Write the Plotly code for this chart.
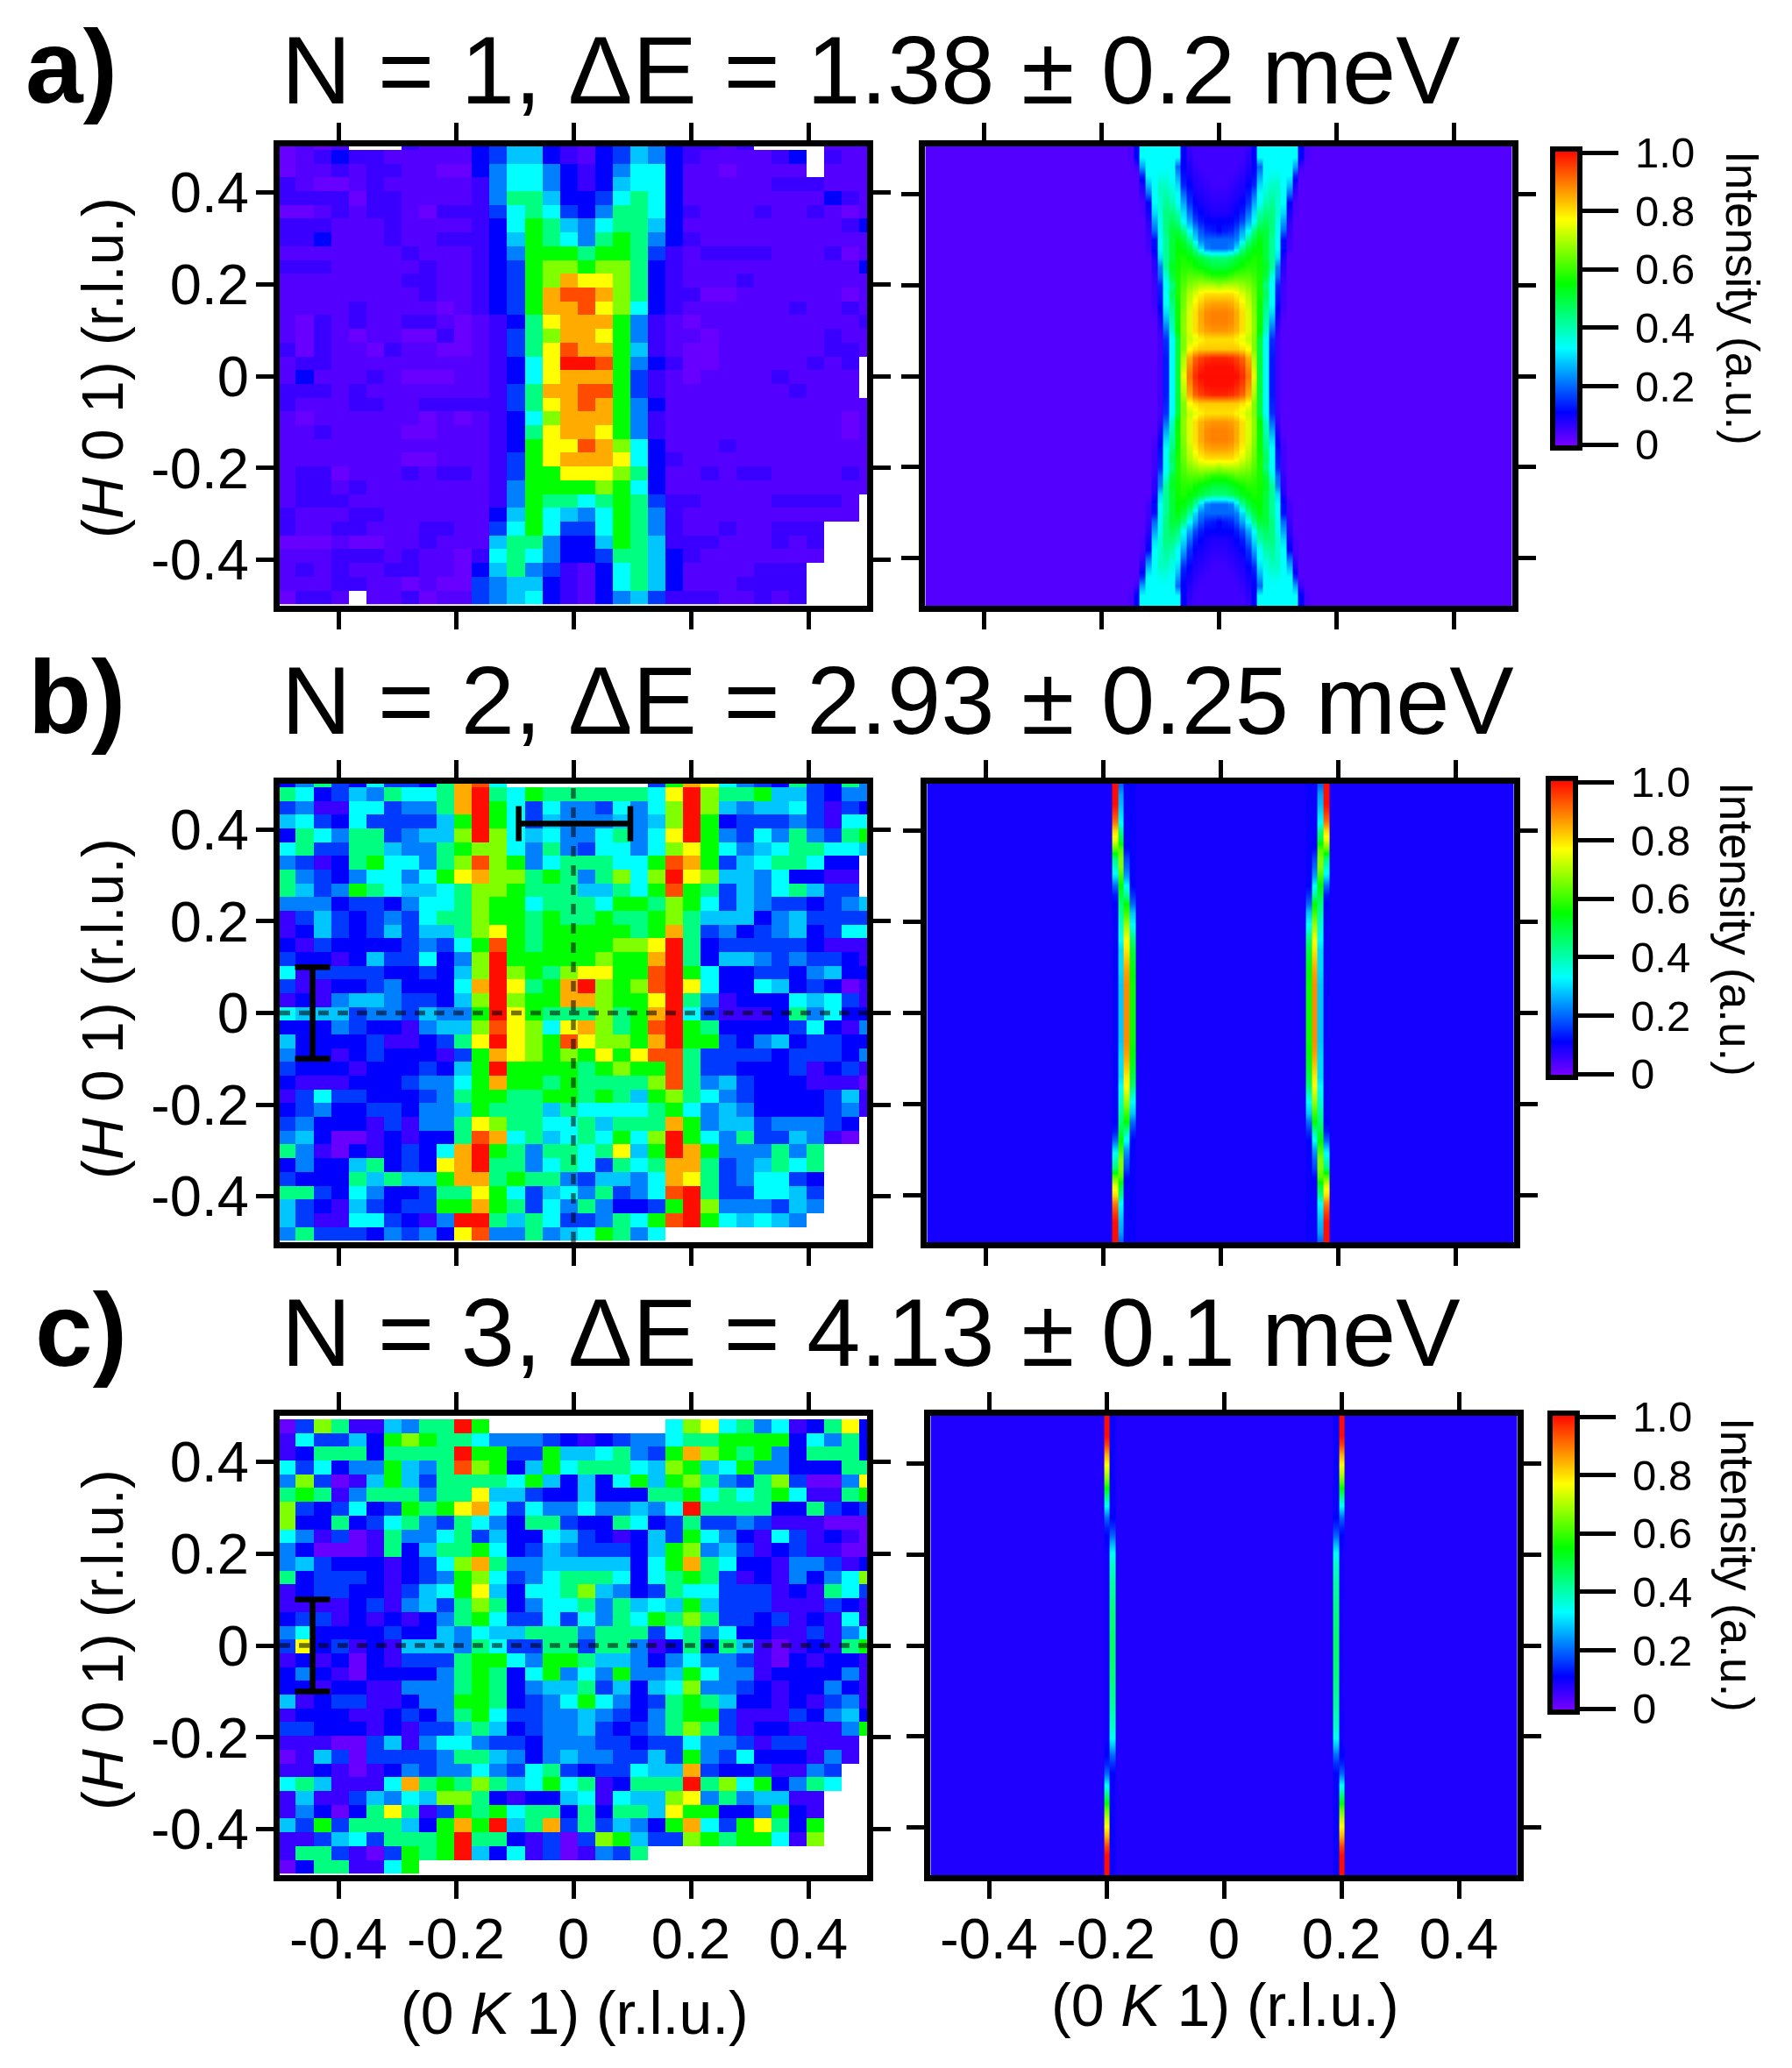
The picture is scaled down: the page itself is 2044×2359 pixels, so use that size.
import plotly.graph_objects as go

W, H = 2044, 2359
FONT = "Liberation Sans"

# Intensity level represented by each character in the measured-map rows ('.' = no data)
LEVELS = {"0": 0.012, "a": 0.03, "1": 0.055, "2": 0.11, "3": 0.16, "4": 0.22, "5": 0.28, "6": 0.33,
          "7": 0.44, "8": 0.55, "9": 0.66, "A": 0.77, "B": 0.85, "D": 0.94, "C": 1.0}

TICKS = [-0.4, -0.2, 0, 0.2, 0.4]
TICK_TEXT = ["-0.4", "-0.2", "0", "0.2", "0.4"]
CBAR_TICKS = [0, 0.2, 0.4, 0.6, 0.8, 1.0]
CBAR_TEXT = ["0", "0.2", "0.4", "0.6", "0.8", "1.0"]
TITLES = ["N = 1, ΔE = 1.38 ± 0.2 meV", "N = 2, ΔE = 2.93 ± 0.25 meV", "N = 3, ΔE = 4.13 ± 0.1 meV"]
PANEL_LETTERS = ["a)", "b)", "c)"]

# Measured-map grid (centres, r.l.u.)
MAP_K = [-0.4875 + 0.03 * i for i in range(34)]
MAP_H = [-0.4825 + 0.03 * j for j in range(34)]

# Panel a, measured, rows top to bottom
MAP_A = [
"0a0a...1aaa 235521a23542 11a1....aaa",
"0a1211aaaaa 235521a23542 1aaaa12.1aa",
"0aa1a11aa00 246642124662 aa0aaaa.aaa",
"1a00a1aaaaa 146642125662 aaaaa111aaa",
"111101 1aaaa 147752236762 aaaaaaaa21a",
"00a1a11a011 136763247762 1aaa1aa1a0a",
"111aaa1aaaa 126875467752 aaaaaaaaa12",
"112aaa1aa11 125876478742 1aaaaaaaaaa",
"aaaaaaa1aaa 124888788731 a1111aaa10a",
"111aaaaa1aa 123899899721 aaaaaaaaaa2",
"aaaaaaa11aa 12389BAA9721 aaa1aaaaaaa",
"aaaaaaaa1aa 1238BDDB9721 100aaaaaa0a",
"aaaa1aaaa0a 1238BBDA9621 aaaaaa1aa1a",
"a01a1aa11a0 a127ABBB841a 0aaaaaaaaa1",
"a01a0aa0010 a1379BBA841a a0aaaaaa1aa",
"101aa01aa00 a137ADBB851a 00aaaaaa11a",
"a11aaaaaaaa a126ACCD8421 00aaaaa1a1.",
"a2aaa1a000a a126ABBB831a 0aaaa1aaaa.",
"111a1aaaaaa a137BBDD831a aaaaaa1aaa.",
"1aaa11aa111 1137ABDB842a aaaaaaaaaaa",
"a0aaaaaa0a0 a1269BBB841a aaaaaaaaa0a",
"aa1aaaa00aa a127ABBA841a aaaaaaaaa0a",
"aaaaaaaaaaa a128AADB962a aa1aaaaaaaa",
"aaaaaaa00aa a138ABBBA621 aaaaaaaaaaa",
"a110aaa1a11 a1388AAA972a a1a11aaaa1a",
"a11a1aaaaaa a14888898 62a aaaaaaaaaaa",
"a111aaaaaaa a14877678731 1aaaa1111a.",
"1aaa11aaaaa a25865468741 aaaaaaaaaa.",
"1aa11aaa11a a36863368741 aa1aa111...",
"000a00aa1aa a57742258751 11aaa1a1...",
"aaa111a1aa0 167642237752 1aaaaaaa...",
"a1a1aa11aa0 257431a26752 aaaa111....",
"aaa11aa0a00 345521a26752 aaa1111....",
"011a.aa10aa 345621a24531 11aa1a1....",
]

# Panel b, measured, rows top to bottom
MAP_B = [
"2473263327 BD6........ 38BA643273 2 7 4",
"7623547667 BC76877777 76AC977855 3244",
"3411663447 BC86364436 469C954556 3132",
"5632633335 8C86354445 459C823334 3166",
"2764773455 9C96564467 46AC843647 4378",
"6733775447 8996474366 469A864567 7665",
"4312786647 9D98467776 68DB835677 622.",
"7432466468 AB99787479 69CA955462 211.",
"7534876556 7998777557 68D8735467 533.",
"4442332466 7988677768 8798635433 2345",
"1353234367 7988787787 7897555245 3333",
"1253235355 79A8788888 78B7342345 2366",
"2132222343 68D8788889 9AC7233333 2111",
"3221253362 49C8888898 8BC7255434 3321",
"6133332232 59C9879AA8 8DC8622332 4522",
"3112234222 6BCA78BC98 9DCA622652 3201",
"1214554332 59C988BB98 8AC7412226 5631",
"6555344354 48CA877797 8BC6311127 4622",
"2224322145 59DA96AB97 8DC8722223 6214",
"5222231123 7ACA98DA99 8BC8832452 3322",
"4221232221 38BA989 8A8 ADD7333323 3324",
"3222122232 58C8888789 88D7332223 1231",
"2111222344 68B8878777 79D7453222 1110",
"1363322234 7887788787 5897643222 2351",
"2342233244 5877757666 6786454222 2341",
"3422213144 7A97766757 77B8455344 432.",
"4520012122 7DB6756768 69C8647335 410.",
"7410212326 BC8747767A 58CB844474 7...",
"2422572 32A BC77467637 67BB734576 7...",
"3222757558 BB78774355 46BA734663 2...",
"7732642237 7A86356473 46DC733665 3...",
"5321532338 8B87364742 238C944435 4...",
"5311663214 CC75763347 68DC865654 ....",
"4733324342 AD44745687 46........ ....",
]

# Panel c, measured, rows top to bottom
MAP_C = [
".......... .......... .......... ....",
"0397115477 C8........ ..69A67461 27A2",
"1633528987 7644432123 4467788882 6472",
"1277727777 C883385567 4 38B98784 2 7772",
"6362448547 D982586777 6598568442 2277",
"4930158537 7776852526 8589743793 004A",
"7871477747 7A55322522 2778676786 1178",
"9323623878 AB63644644 546C777722 7323",
"9227236743 7642773227 6237334311 1000",
"6413017446 7352265321 2538642163 1210",
"4200017257 7862354333 2589453123 1100",
"4532221236 9B74455555 268B762214 4312",
"7233321234 8963467776 2678731214 2469",
"1233221356 8A52667954 2376633312 1763",
"1111231453 7972466747 5658533311 1321",
"2331212124 7863363647 6879733231 2161",
"4622223225 4655777477 7367462211 3146",
"3A23121555 4763377377 4127275101 2178",
"1212021333 7886488755 4246443102 1221",
"2421022224 7872684648 4458644122 2241",
"2212211444 7872455735 2569443212 2421",
"5123311244 8872346864 2378752212 1341",
"1222112324 7863344543 2478831113 2452",
"3322212133 5752344532 3479731221 1148",
"1110035146 6433244433 2336443133 111.",
"0153033334 7754245443 3538436222 141.",
"1121012434 4643673233 655B322311 43..",
"6751116B78 7975686712 777C796824 76..",
"1511354659 9721225616 559A474551 1...",
"1420 27A713 8786772727 75A8822482 1...",
"5383777528 B8C57B3735 428B638A72 8...",
"1135637778 C772130398 5339878861 9...",
"1773103878 C52613 0143 7......... ....",
"02771168.. .......... .......... ....",
]

# Panel a, fitted map: intensity against |K| (0 to 0.15 in 0.01 steps), rows for |H| = 0 to 0.5 in 0.02 steps
FIT_A_BG = 0.03
FIT_A = [
[1, 1, 1, 1, .97, .9, .75, .5, .33, .13, .05],
[1, 1, 1, .98, .95, .88, .72, .5, .33, .13, .05],
[.98, .98, .97, .95, .92, .85, .7, .5, .33, .13, .05],
[.82, .82, .82, .82, .8, .77, .66, .5, .33, .14, .05],
[.8, .8, .8, .78, .75, .72, .66, .5, .33, .15, .05],
[.87, .87, .86, .84, .8, .74, .67, .55, .38, .2, .06],
[.89, .89, .88, .85, .8, .74, .67, .56, .4, .25, .08],
[.89, .89, .88, .85, .8, .74, .66, .56, .42, .3, .1, .04],
[.86, .86, .85, .82, .78, .72, .65, .56, .44, .33, .12, .05],
[.8, .8, .8, .78, .74, .7, .64, .57, .47, .33, .13, .05],
[.68, .7, .7, .7, .68, .66, .62, .57, .44, .33, .14, .05],
[.58, .58, .6, .62, .62, .62, .6, .57, .5, .36, .2, .06],
[.5, .5, .52, .54, .56, .58, .58, .56, .52, .42, .22, .07],
[.45, .45, .47, .5, .53, .55, .57, .56, .5, .42, .3, .08],
[.2, .2, .22, .3, .42, .5, .54, .55, .5, .42, .33, .12, .05],
[.2, .2, .2, .22, .3, .42, .5, .54, .5, .42, .33, .12, .05],
[.11, .13, .14, .18, .25, .33, .44, .5, .5, .44, .34, .2, .06],
[.11, .11, .11, .13, .17, .25, .33, .44, .47, .44, .35, .25, .07],
[.08, .08, .09, .11, .13, .2, .3, .4, .44, .44, .37, .3, .09, .04],
[.07, .07, .08, .09, .11, .15, .25, .33, .4, .42, .37, .33, .11, .04],
[.06, .06, .07, .08, .09, .13, .2, .33, .37, .4, .38, .33, .2, .06],
[.05, .05, .06, .07, .08, .11, .14, .3, .35, .38, .38, .33, .27, .08],
[.05, .05, .05, .06, .07, .09, .12, .25, .33, .35, .35, .33, .33, .14],
[.05, .05, .05, .05, .06, .08, .11, .2, .33, .33, .33, .33, .33, .25, .05],
[.05, .05, .05, .05, .05, .07, .11, .33, .33, .33, .33, .33, .33, .33, .11, .04],
[.05, .05, .05, .05, .05, .06, .11, .33, .33, .33, .33, .33, .33, .33, .11, .04],
]

# Panels b and c, fitted maps: intensity in the columns nearest the line, for |H| = 0 to 0.5 in 0.02 steps
FIT_H = [0, .02, .04, .06, .08, .1, .12, .14, .16, .18, .2, .22, .24, .26, .28, .3, .32, .34, .36, .38, .4, .42, .44, .46, .48, .5]
FIT_B_BG = 0.09
FIT_B_K = [15, 16, 17, 18]  # |K| in hundredths
FIT_B_15 = [.56, .56, .56, .56, .55, .54, .52, .5, .45, .38, .32, .28, .2, .15, .11, .1, .1, .1, .1, .1, .1, .1, .1, .1, .1, .1]
FIT_B_16 = [.88, .88, .88, .88, .87, .85, .82, .79, .77, .72, .67, .6, .55, .42, .33, .25, .2, .17, .12, .1, .1, .1, .1, .1, .1, .1]
FIT_B_17 = [.28, .28, .28, .28, .29, .3, .3, .3, .33, .36, .38, .42, .45, .5, .55, .6, .66, .66, .62, .5, .44, .33, .3, .27, .25, .2]
FIT_B_18 = [.1, .1, .1, .1, .1, .1, .1, .1, .1, .1, .1, .1, .11, .13, .2, .3, .38, .45, .62, .75, .8, .9, .96, 1, 1, 1]
FIT_C_BG = 0.08
FIT_C_K = [19, 20]
FIT_C_19 = [.46, .46, .45, .45, .44, .43, .42, .41, .39, .38, .34, .28, .2, .15, .11, .1, .1, .1, .1, .1, .1, .1, .1, .1, .1, .1]
FIT_C_20 = [.09, .09, .09, .09, .09, .09, .09, .09, .09, .09, .09, .1, .11, .14, .2, .3, .4, .52, .63, .72, .78, .85, .95, 1, 1, 1]


def decode(rows):
    out = []
    for r in rows:
        r = r.replace(" ", "")[:34].ljust(34, ".")
        out.append([LEVELS.get(c) for c in r])
    return out[::-1]


ZMIN, ZMAX = -0.012, 1.012
def frac(v):
    return (v - ZMIN) / (ZMAX - ZMIN)
SCALE = [[0, "#8000ff"], [frac(.11), "#0000ff"], [frac(.33), "#00ffff"], [frac(.55), "#00ff00"],
         [frac(.77), "#ffff00"], [1, "#ff0000"]]

# Fine sample positions: each 0.01 cell keeps a flat top
FIT_CELLS = list(range(-50, 51))
FIT_X = []
for c in FIT_CELLS:
    for off in (-0.0044, 0.0044):
        FIT_X.append(max(-0.498, min(0.498, c / 100 + off)))
FIT_X = [v + i * 1e-7 for i, v in enumerate(FIT_X)]  # keep positions strictly increasing at the clipped ends
FIT_Y = [-h for h in FIT_H[:0:-1]] + FIT_H


def fit_rows(lookup):
    rows = []
    for h in range(len(FIT_H)):
        row = []
        for c in FIT_CELLS:
            v = lookup(abs(c), h)
            row += [v, v]
        rows.append(row)
    return rows[:0:-1] + rows


def look_a(c, h):
    r = FIT_A[h]
    return r[c] if c < len(r) else FIT_A_BG


def make_look(bg, ks, cols):
    table = dict(zip(ks, cols))
    return lambda c, h: table[c][h] if c in table else bg


look_b = make_look(FIT_B_BG, FIT_B_K, [FIT_B_15, FIT_B_16, FIT_B_17, FIT_B_18])
look_c = make_look(FIT_C_BG, FIT_C_K, [FIT_C_19, FIT_C_20])

PANELS = [
    dict(map=MAP_A, look=look_a, top=167, bot=691, rx=1055, cb_x=1771, cb_top=170, lx=1987, ly=340, ty=115, letter_y=76, letter_x=27),
    dict(map=MAP_B, look=look_b, top=894, bot=1417, rx=1057, cb_x=1766, cb_top=888, lx=1981, ly=1060, ty=834, letter_y=795, letter_x=30),
    dict(map=MAP_C, look=look_c, top=1615, bot=2139, rx=1061, cb_x=1768, cb_top=1612, lx=1982, ly=1785, ty=1555, letter_y=1517, letter_x=38),
]
YLABEL_Y = [420, 1151, 1871]

fig = go.Figure()
annotations = []
layout = {}


def px_ann(text, x, y, size, angle=0, xanchor="center", bold=False):
    if bold:
        text = "<b>" + text + "</b>"
    annotations.append(dict(text=text, x=x / W, y=1 - y / H, xref="paper", yref="paper", showarrow=False,
                            xanchor=xanchor, yanchor="middle", textangle=angle,
                            font=dict(family=FONT, size=size, color="black")))


def axis(domain, anchor, labels, rng, standoff):
    return dict(domain=domain, anchor=anchor, range=rng, showgrid=False, zeroline=False, showline=True,
                mirror="allticks", linecolor="black", linewidth=7, ticks="outside", ticklen=20, tickwidth=4.5,
                tickcolor="black", tickmode="array", tickvals=TICKS, ticktext=TICK_TEXT, showticklabels=labels,
                tickfont=dict(family=FONT, size=65, color="black"), ticklabelstandoff=standoff)


for i, p in enumerate(PANELS):
    xl, yl = f"x{2*i+1}", f"y{2*i+1}"
    xr, yr = f"x{2*i+2}", f"y{2*i+2}"
    yd = [1 - p["bot"] / H, 1 - p["top"] / H]
    layout[f"xaxis{2*i+1}"] = axis([319 / W, 989 / W], yl, i == 2, [-0.5, 0.5], -10)
    layout[f"yaxis{2*i+1}"] = axis(yd, xl, True, [-0.5, 0.5], -5)
    layout[f"xaxis{2*i+2}"] = axis([p["rx"] / W, (p["rx"] + 670) / W], yr, i == 2, [-0.5, 0.5], -10)
    layout[f"yaxis{2*i+2}"] = axis(yd, xr, False, [-0.504, 0.504], 0)

    fig.add_trace(go.Heatmap(x=MAP_K, y=MAP_H, z=decode(p["map"]), xaxis=xl, yaxis=yl, colorscale=SCALE,
                             zmin=ZMIN, zmax=ZMAX, showscale=False, hoverongaps=False))
    fig.add_trace(go.Heatmap(
        x=FIT_X, y=FIT_Y, z=fit_rows(p["look"]), xaxis=xr, yaxis=yr, colorscale=SCALE, zmin=ZMIN, zmax=ZMAX,
        zsmooth="best",
        colorbar=dict(x=p["cb_x"] / W, xanchor="left", xpad=0, y=1 - p["cb_top"] / H, yanchor="top", ypad=0,
                      len=341, lenmode="pixels", thickness=31, thicknessmode="pixels", outlinewidth=6,
                      outlinecolor="black", ticks="outside", ticklen=41, tickwidth=5, tickcolor="black",
                      tickmode="array", tickvals=CBAR_TICKS, ticktext=["\u2009" + t for t in CBAR_TEXT],
                      tickfont=dict(family=FONT, size=49, color="black"))))

    px_ann(TITLES[i], 319, p["ty"] - 36, 110, xanchor="left")
    px_ann(PANEL_LETTERS[i], p["letter_x"], p["letter_y"], 118, xanchor="left", bold=True)
    px_ann("(<i>H</i> 0 1) (r.l.u.)", 117, YLABEL_Y[i], 66, angle=-90)
    px_ann("Intensity (a.u.)", p["lx"], p["ly"], 53, angle=90)

# Guide lines and resolution bars on the measured maps
DASH = dict(color="rgba(0,0,0,0.55)", width=5.5, dash="12px,10px")
BAR = dict(type="data", array=[0.1], visible=True, color="black", thickness=6.5, width=20)
fig.add_trace(go.Scatter(x=[-0.5, 0.5], y=[0, 0], mode="lines", line=DASH, xaxis="x3", yaxis="y3", showlegend=False))
fig.add_trace(go.Scatter(x=[0, 0], y=[-0.5, 0.5], mode="lines", line=DASH, xaxis="x3", yaxis="y3", showlegend=False))
fig.add_trace(go.Scatter(x=[-0.5, 0.5], y=[0, 0], mode="lines", line=DASH, xaxis="x5", yaxis="y5", showlegend=False))
fig.add_trace(go.Scatter(x=[-0.444], y=[0], mode="lines", error_y=BAR, xaxis="x3", yaxis="y3", showlegend=False))
fig.add_trace(go.Scatter(x=[-0.444], y=[0], mode="lines", error_y=BAR, xaxis="x5", yaxis="y5", showlegend=False))
fig.add_trace(go.Scatter(x=[0.002], y=[0.413], mode="lines",
                         error_x=dict(type="data", array=[0.095], visible=True, color="black", thickness=6.5, width=20),
                         xaxis="x3", yaxis="y3", showlegend=False))

px_ann("(0 <i>K</i> 1) (r.l.u.)", 655, 2296, 68)
px_ann("(0 <i>K</i> 1) (r.l.u.)", 1397, 2287, 68)

fig.update_layout(width=W, height=H, margin=dict(l=0, r=0, t=0, b=0, autoexpand=False), paper_bgcolor="white",
                  plot_bgcolor="white", showlegend=False, annotations=annotations, **layout)
fig.write_html("out.html", config={"displayModeBar": False},
               post_script="document.body.style.margin='0';")
